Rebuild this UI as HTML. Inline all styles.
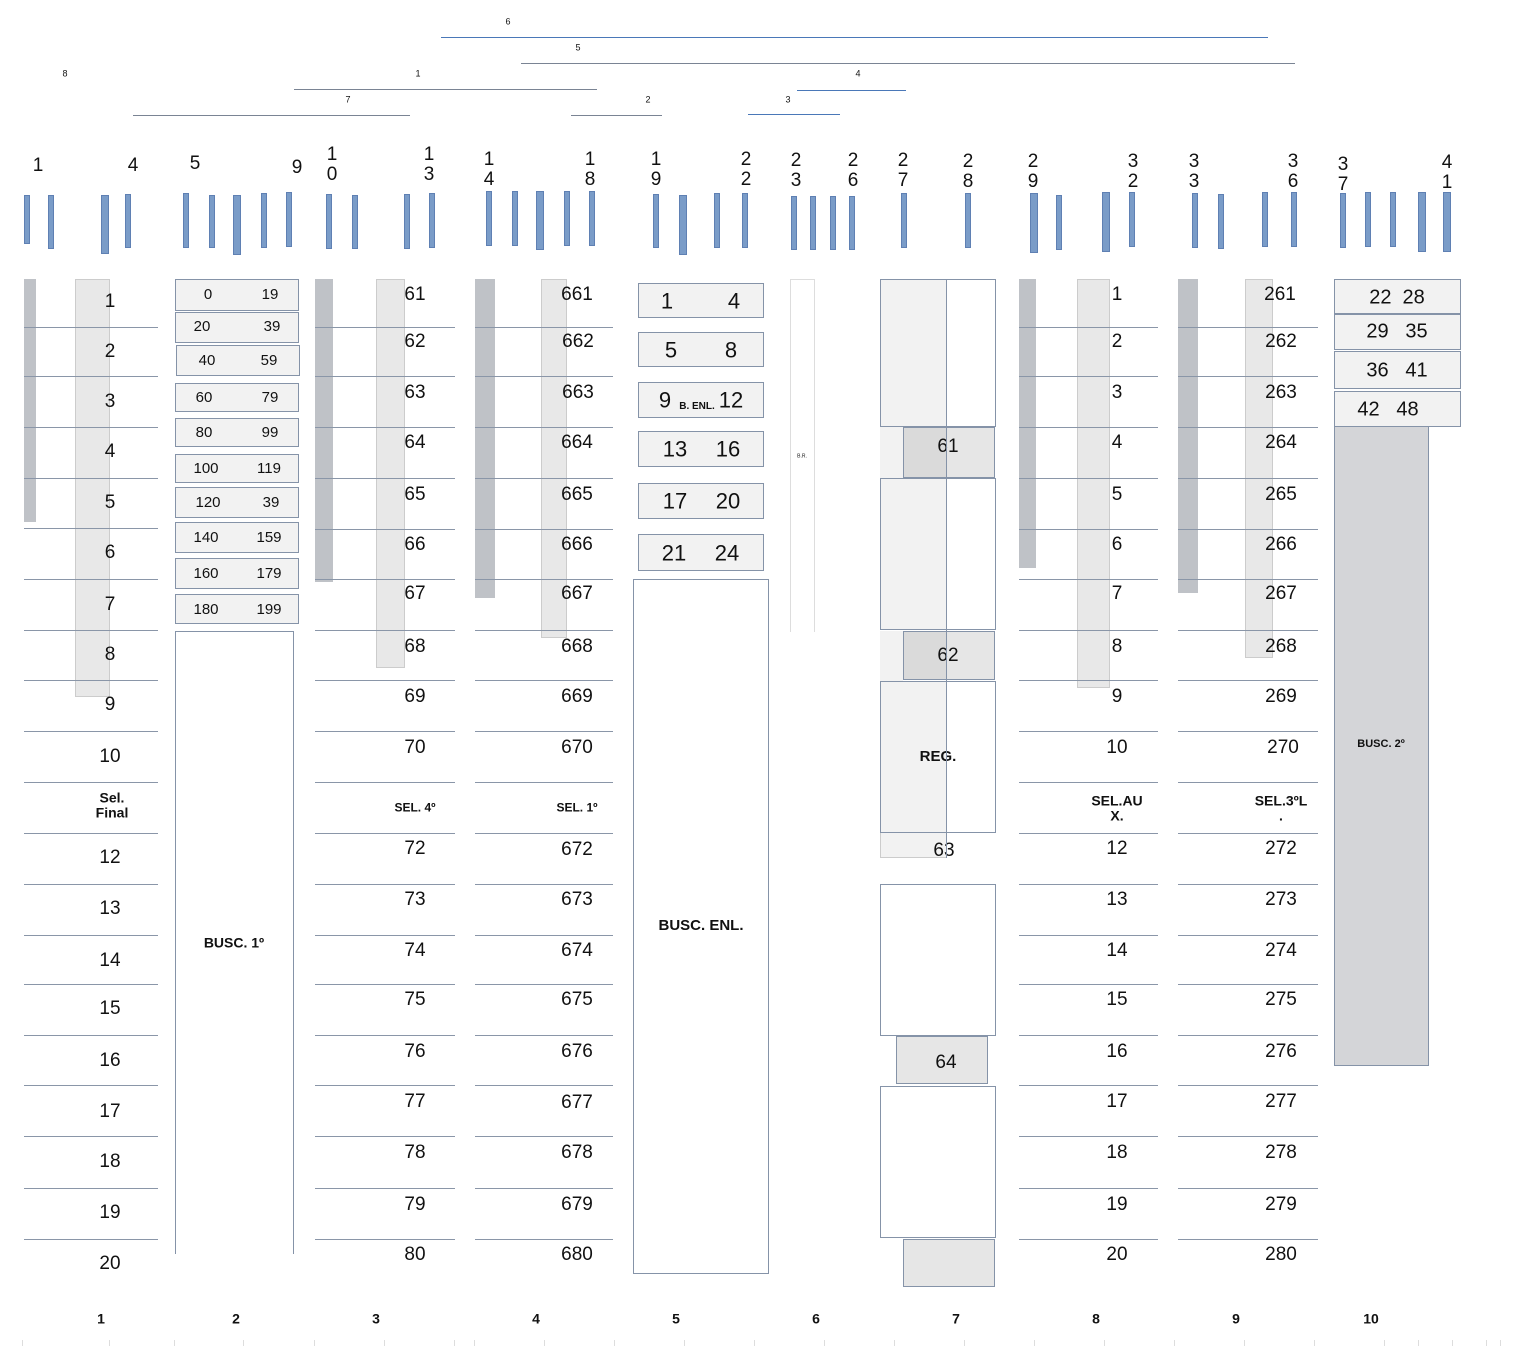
<!DOCTYPE html>
<html><head><meta charset="utf-8"><style>
body{margin:0;width:1536px;height:1346px;background:#fff;position:relative;overflow:hidden;font-family:"Liberation Sans",sans-serif;color:#111}
div{position:absolute;box-sizing:border-box}
.t{transform:translate(-50%,-50%);white-space:nowrap;text-align:center;line-height:1.05}
.n{font-size:19px}
.s{font-size:15px}
.b{font-weight:bold}
.h{height:1px;background:#8a96a8}
.bar{width:6px;background:#7a9cc8;border:1px solid #5f80b3}
.bx{border:1px solid #8593a8;background:#f2f2f2}
.dk{background:#bfc2c7}
.lt{background:#e8e8e8;border:1px solid #ccc}
.ln{height:1px}
</style></head><body>
<!-- top range lines -->
<div class="t" style="left:508px;top:22px;font-size:9px">6</div><div class="ln" style="left:441px;top:37px;width:827px;background:#4a78b8"></div>
<div class="t" style="left:578px;top:48px;font-size:9px">5</div><div class="ln" style="left:521px;top:63px;width:774px;background:#7a8494"></div>
<div class="t" style="left:858px;top:74px;font-size:9px">4</div><div class="ln" style="left:797px;top:90px;width:109px;background:#4a78b8"></div>
<div class="t" style="left:65px;top:74px;font-size:9px">8</div>
<div class="t" style="left:418px;top:74px;font-size:9px">1</div><div class="ln" style="left:294px;top:89px;width:303px;background:#7a8494"></div>
<div class="t" style="left:348px;top:100px;font-size:9px">7</div><div class="ln" style="left:133px;top:115px;width:277px;background:#7a8494"></div>
<div class="t" style="left:648px;top:100px;font-size:9px">2</div><div class="ln" style="left:571px;top:115px;width:91px;background:#7a8494"></div>
<div class="t" style="left:788px;top:100px;font-size:9px">3</div><div class="ln" style="left:748px;top:114px;width:92px;background:#4a78b8"></div>

<!-- header numbers -->
<div class="t n" style="left:38px;top:166px">1</div>
<div class="t n" style="left:133px;top:166px">4</div>
<div class="t n" style="left:195px;top:164px">5</div>
<div class="t n" style="left:297px;top:168px">9</div>
<div class="t n" style="left:332px;top:165px">1<br>0</div>
<div class="t n" style="left:429px;top:165px">1<br>3</div>
<div class="t n" style="left:489px;top:170px">1<br>4</div>
<div class="t n" style="left:590px;top:170px">1<br>8</div>
<div class="t n" style="left:656px;top:170px">1<br>9</div>
<div class="t n" style="left:746px;top:170px">2<br>2</div>
<div class="t n" style="left:796px;top:171px">2<br>3</div>
<div class="t n" style="left:853px;top:171px">2<br>6</div>
<div class="t n" style="left:903px;top:171px">2<br>7</div>
<div class="t n" style="left:968px;top:172px">2<br>8</div>
<div class="t n" style="left:1033px;top:172px">2<br>9</div>
<div class="t n" style="left:1133px;top:172px">3<br>2</div>
<div class="t n" style="left:1194px;top:172px">3<br>3</div>
<div class="t n" style="left:1293px;top:172px">3<br>6</div>
<div class="t n" style="left:1343px;top:175px">3<br>7</div>
<div class="t n" style="left:1447px;top:173px">4<br>1</div>

<!-- blue bars -->
<div class="bar" style="left:24px;top:195px;height:49px"></div>
<div class="bar" style="left:48px;top:195px;height:54px"></div>
<div class="bar" style="left:101px;top:195px;height:59px;width:8px"></div>
<div class="bar" style="left:125px;top:194px;height:54px"></div>
<div class="bar" style="left:183px;top:193px;height:55px"></div>
<div class="bar" style="left:209px;top:195px;height:53px"></div>
<div class="bar" style="left:233px;top:195px;height:60px;width:8px"></div>
<div class="bar" style="left:261px;top:193px;height:55px"></div>
<div class="bar" style="left:286px;top:192px;height:55px"></div>
<div class="bar" style="left:326px;top:194px;height:55px"></div>
<div class="bar" style="left:352px;top:195px;height:54px"></div>
<div class="bar" style="left:404px;top:194px;height:55px"></div>
<div class="bar" style="left:429px;top:193px;height:55px"></div>
<div class="bar" style="left:486px;top:191px;height:55px"></div>
<div class="bar" style="left:512px;top:191px;height:55px"></div>
<div class="bar" style="left:536px;top:191px;height:59px;width:8px"></div>
<div class="bar" style="left:564px;top:191px;height:55px"></div>
<div class="bar" style="left:589px;top:191px;height:55px"></div>
<div class="bar" style="left:653px;top:194px;height:54px"></div>
<div class="bar" style="left:679px;top:195px;height:60px;width:8px"></div>
<div class="bar" style="left:714px;top:193px;height:55px"></div>
<div class="bar" style="left:742px;top:193px;height:55px"></div>
<div class="bar" style="left:791px;top:196px;height:54px"></div>
<div class="bar" style="left:810px;top:196px;height:54px"></div>
<div class="bar" style="left:830px;top:196px;height:54px"></div>
<div class="bar" style="left:849px;top:196px;height:54px"></div>
<div class="bar" style="left:901px;top:193px;height:55px"></div>
<div class="bar" style="left:965px;top:193px;height:55px"></div>
<div class="bar" style="left:1030px;top:193px;height:60px;width:8px"></div>
<div class="bar" style="left:1056px;top:195px;height:55px"></div>
<div class="bar" style="left:1102px;top:192px;height:60px;width:8px"></div>
<div class="bar" style="left:1129px;top:192px;height:55px"></div>
<div class="bar" style="left:1192px;top:193px;height:55px"></div>
<div class="bar" style="left:1218px;top:194px;height:55px"></div>
<div class="bar" style="left:1262px;top:192px;height:55px"></div>
<div class="bar" style="left:1291px;top:192px;height:55px"></div>
<div class="bar" style="left:1340px;top:193px;height:55px"></div>
<div class="bar" style="left:1365px;top:192px;height:55px"></div>
<div class="bar" style="left:1390px;top:192px;height:55px"></div>
<div class="bar" style="left:1418px;top:192px;height:60px;width:8px"></div>
<div class="bar" style="left:1443px;top:192px;height:60px;width:8px"></div>

<!-- shading bars -->
<div class="dk" style="left:24px;top:279px;width:12px;height:243px"></div>
<div class="lt" style="left:75px;top:279px;width:35px;height:418px"></div>
<div class="dk" style="left:315px;top:279px;width:18px;height:303px"></div>
<div class="lt" style="left:376px;top:279px;width:29px;height:389px"></div>
<div class="dk" style="left:475px;top:279px;width:20px;height:319px"></div>
<div class="lt" style="left:541px;top:279px;width:26px;height:359px"></div>
<div class="dk" style="left:1019px;top:279px;width:17px;height:289px"></div>
<div class="lt" style="left:1077px;top:279px;width:33px;height:409px"></div>
<div class="dk" style="left:1178px;top:279px;width:20px;height:314px"></div>
<div class="lt" style="left:1245px;top:279px;width:28px;height:379px"></div>

<!-- row lines -->
<div style="left:24px;top:0;width:134px;height:0">
<div class="h" style="left:0;top:327px;width:134px"></div><div class="h" style="left:0;top:376px;width:134px"></div><div class="h" style="left:0;top:427px;width:134px"></div><div class="h" style="left:0;top:478px;width:134px"></div><div class="h" style="left:0;top:528px;width:134px"></div><div class="h" style="left:0;top:579px;width:134px"></div><div class="h" style="left:0;top:630px;width:134px"></div><div class="h" style="left:0;top:680px;width:134px"></div><div class="h" style="left:0;top:731px;width:134px"></div><div class="h" style="left:0;top:782px;width:134px"></div><div class="h" style="left:0;top:833px;width:134px"></div><div class="h" style="left:0;top:884px;width:134px"></div><div class="h" style="left:0;top:935px;width:134px"></div><div class="h" style="left:0;top:984px;width:134px"></div><div class="h" style="left:0;top:1035px;width:134px"></div><div class="h" style="left:0;top:1085px;width:134px"></div><div class="h" style="left:0;top:1136px;width:134px"></div><div class="h" style="left:0;top:1188px;width:134px"></div><div class="h" style="left:0;top:1239px;width:134px"></div>
</div>
<div style="left:315px;top:0;width:140px;height:0">
<div class="h" style="left:0;top:327px;width:140px"></div><div class="h" style="left:0;top:376px;width:140px"></div><div class="h" style="left:0;top:427px;width:140px"></div><div class="h" style="left:0;top:478px;width:140px"></div><div class="h" style="left:0;top:529px;width:140px"></div><div class="h" style="left:0;top:579px;width:140px"></div><div class="h" style="left:0;top:630px;width:140px"></div><div class="h" style="left:0;top:680px;width:140px"></div><div class="h" style="left:0;top:731px;width:140px"></div><div class="h" style="left:0;top:782px;width:140px"></div><div class="h" style="left:0;top:833px;width:140px"></div><div class="h" style="left:0;top:884px;width:140px"></div><div class="h" style="left:0;top:935px;width:140px"></div><div class="h" style="left:0;top:984px;width:140px"></div><div class="h" style="left:0;top:1035px;width:140px"></div><div class="h" style="left:0;top:1085px;width:140px"></div><div class="h" style="left:0;top:1136px;width:140px"></div><div class="h" style="left:0;top:1188px;width:140px"></div><div class="h" style="left:0;top:1239px;width:140px"></div>
</div>
<div style="left:475px;top:0;width:138px;height:0">
<div class="h" style="left:0;top:327px;width:138px"></div><div class="h" style="left:0;top:376px;width:138px"></div><div class="h" style="left:0;top:427px;width:138px"></div><div class="h" style="left:0;top:478px;width:138px"></div><div class="h" style="left:0;top:529px;width:138px"></div><div class="h" style="left:0;top:579px;width:138px"></div><div class="h" style="left:0;top:630px;width:138px"></div><div class="h" style="left:0;top:680px;width:138px"></div><div class="h" style="left:0;top:731px;width:138px"></div><div class="h" style="left:0;top:782px;width:138px"></div><div class="h" style="left:0;top:833px;width:138px"></div><div class="h" style="left:0;top:884px;width:138px"></div><div class="h" style="left:0;top:935px;width:138px"></div><div class="h" style="left:0;top:984px;width:138px"></div><div class="h" style="left:0;top:1035px;width:138px"></div><div class="h" style="left:0;top:1085px;width:138px"></div><div class="h" style="left:0;top:1136px;width:138px"></div><div class="h" style="left:0;top:1188px;width:138px"></div><div class="h" style="left:0;top:1239px;width:138px"></div>
</div>
<div style="left:1019px;top:0;width:139px;height:0">
<div class="h" style="left:0;top:327px;width:139px"></div><div class="h" style="left:0;top:376px;width:139px"></div><div class="h" style="left:0;top:427px;width:139px"></div><div class="h" style="left:0;top:478px;width:139px"></div><div class="h" style="left:0;top:529px;width:139px"></div><div class="h" style="left:0;top:579px;width:139px"></div><div class="h" style="left:0;top:630px;width:139px"></div><div class="h" style="left:0;top:680px;width:139px"></div><div class="h" style="left:0;top:731px;width:139px"></div><div class="h" style="left:0;top:782px;width:139px"></div><div class="h" style="left:0;top:833px;width:139px"></div><div class="h" style="left:0;top:884px;width:139px"></div><div class="h" style="left:0;top:935px;width:139px"></div><div class="h" style="left:0;top:984px;width:139px"></div><div class="h" style="left:0;top:1035px;width:139px"></div><div class="h" style="left:0;top:1085px;width:139px"></div><div class="h" style="left:0;top:1136px;width:139px"></div><div class="h" style="left:0;top:1188px;width:139px"></div><div class="h" style="left:0;top:1239px;width:139px"></div>
</div>
<div style="left:1178px;top:0;width:140px;height:0">
<div class="h" style="left:0;top:327px;width:140px"></div><div class="h" style="left:0;top:376px;width:140px"></div><div class="h" style="left:0;top:427px;width:140px"></div><div class="h" style="left:0;top:478px;width:140px"></div><div class="h" style="left:0;top:529px;width:140px"></div><div class="h" style="left:0;top:579px;width:140px"></div><div class="h" style="left:0;top:630px;width:140px"></div><div class="h" style="left:0;top:680px;width:140px"></div><div class="h" style="left:0;top:731px;width:140px"></div><div class="h" style="left:0;top:782px;width:140px"></div><div class="h" style="left:0;top:833px;width:140px"></div><div class="h" style="left:0;top:884px;width:140px"></div><div class="h" style="left:0;top:935px;width:140px"></div><div class="h" style="left:0;top:984px;width:140px"></div><div class="h" style="left:0;top:1035px;width:140px"></div><div class="h" style="left:0;top:1085px;width:140px"></div><div class="h" style="left:0;top:1136px;width:140px"></div><div class="h" style="left:0;top:1188px;width:140px"></div><div class="h" style="left:0;top:1239px;width:140px"></div>
</div>

<!-- col1 labels -->
<div class="t n" style="left:110px;top:302px">1</div><div class="t n" style="left:110px;top:352px">2</div><div class="t n" style="left:110px;top:402px">3</div><div class="t n" style="left:110px;top:452px">4</div><div class="t n" style="left:110px;top:503px">5</div><div class="t n" style="left:110px;top:553px">6</div><div class="t n" style="left:110px;top:605px">7</div><div class="t n" style="left:110px;top:655px">8</div><div class="t n" style="left:110px;top:705px">9</div><div class="t n" style="left:110px;top:757px">10</div>
<div class="t b" style="left:112px;top:805px;font-size:14px">Sel.<br>Final</div>
<div class="t n" style="left:110px;top:858px">12</div><div class="t n" style="left:110px;top:909px">13</div><div class="t n" style="left:110px;top:961px">14</div><div class="t n" style="left:110px;top:1009px">15</div><div class="t n" style="left:110px;top:1061px">16</div><div class="t n" style="left:110px;top:1112px">17</div><div class="t n" style="left:110px;top:1162px">18</div><div class="t n" style="left:110px;top:1213px">19</div><div class="t n" style="left:110px;top:1264px">20</div>

<!-- col3 labels -->
<div class="t n" style="left:415px;top:295px">61</div><div class="t n" style="left:415px;top:342px">62</div><div class="t n" style="left:415px;top:393px">63</div><div class="t n" style="left:415px;top:443px">64</div><div class="t n" style="left:415px;top:495px">65</div><div class="t n" style="left:415px;top:545px">66</div><div class="t n" style="left:415px;top:594px">67</div><div class="t n" style="left:415px;top:647px">68</div><div class="t n" style="left:415px;top:697px">69</div><div class="t n" style="left:415px;top:748px">70</div>
<div class="t b" style="left:415px;top:808px;font-size:12px">SEL. 4º</div>
<div class="t n" style="left:415px;top:849px">72</div><div class="t n" style="left:415px;top:900px">73</div><div class="t n" style="left:415px;top:951px">74</div><div class="t n" style="left:415px;top:1000px">75</div><div class="t n" style="left:415px;top:1052px">76</div><div class="t n" style="left:415px;top:1102px">77</div><div class="t n" style="left:415px;top:1153px">78</div><div class="t n" style="left:415px;top:1205px">79</div><div class="t n" style="left:415px;top:1255px">80</div>

<!-- col4 labels -->
<div class="t n" style="left:577px;top:295px">661</div><div class="t n" style="left:578px;top:342px">662</div><div class="t n" style="left:578px;top:393px">663</div><div class="t n" style="left:577px;top:443px">664</div><div class="t n" style="left:577px;top:495px">665</div><div class="t n" style="left:577px;top:545px">666</div><div class="t n" style="left:577px;top:594px">667</div><div class="t n" style="left:577px;top:647px">668</div><div class="t n" style="left:577px;top:697px">669</div><div class="t n" style="left:577px;top:748px">670</div>
<div class="t b" style="left:577px;top:808px;font-size:12px">SEL. 1º</div>
<div class="t n" style="left:577px;top:850px">672</div><div class="t n" style="left:577px;top:900px">673</div><div class="t n" style="left:577px;top:951px">674</div><div class="t n" style="left:577px;top:1000px">675</div><div class="t n" style="left:577px;top:1052px">676</div><div class="t n" style="left:577px;top:1103px">677</div><div class="t n" style="left:577px;top:1153px">678</div><div class="t n" style="left:577px;top:1205px">679</div><div class="t n" style="left:577px;top:1255px">680</div>

<!-- col8 labels -->
<div class="t n" style="left:1117px;top:295px">1</div><div class="t n" style="left:1117px;top:342px">2</div><div class="t n" style="left:1117px;top:393px">3</div><div class="t n" style="left:1117px;top:443px">4</div><div class="t n" style="left:1117px;top:495px">5</div><div class="t n" style="left:1117px;top:545px">6</div><div class="t n" style="left:1117px;top:594px">7</div><div class="t n" style="left:1117px;top:647px">8</div><div class="t n" style="left:1117px;top:697px">9</div><div class="t n" style="left:1117px;top:748px">10</div>
<div class="t b" style="left:1117px;top:808px;font-size:14px">SEL.AU<br>X.</div>
<div class="t n" style="left:1117px;top:849px">12</div><div class="t n" style="left:1117px;top:900px">13</div><div class="t n" style="left:1117px;top:951px">14</div><div class="t n" style="left:1117px;top:1000px">15</div><div class="t n" style="left:1117px;top:1052px">16</div><div class="t n" style="left:1117px;top:1102px">17</div><div class="t n" style="left:1117px;top:1153px">18</div><div class="t n" style="left:1117px;top:1205px">19</div><div class="t n" style="left:1117px;top:1255px">20</div>

<!-- col9 labels -->
<div class="t n" style="left:1280px;top:295px">261</div><div class="t n" style="left:1281px;top:342px">262</div><div class="t n" style="left:1281px;top:393px">263</div><div class="t n" style="left:1281px;top:443px">264</div><div class="t n" style="left:1281px;top:495px">265</div><div class="t n" style="left:1281px;top:545px">266</div><div class="t n" style="left:1281px;top:594px">267</div><div class="t n" style="left:1281px;top:647px">268</div><div class="t n" style="left:1281px;top:697px">269</div><div class="t n" style="left:1283px;top:748px">270</div>
<div class="t b" style="left:1281px;top:808px;font-size:14px">SEL.3ºL<br>.</div>
<div class="t n" style="left:1281px;top:849px">272</div><div class="t n" style="left:1281px;top:900px">273</div><div class="t n" style="left:1281px;top:951px">274</div><div class="t n" style="left:1281px;top:1000px">275</div><div class="t n" style="left:1281px;top:1052px">276</div><div class="t n" style="left:1281px;top:1102px">277</div><div class="t n" style="left:1281px;top:1153px">278</div><div class="t n" style="left:1281px;top:1205px">279</div><div class="t n" style="left:1281px;top:1255px">280</div>

<!-- col2 -->
<div class="bx" style="left:175px;top:279px;width:124px;height:32px"></div><div class="t s" style="left:208px;top:295px">0</div><div class="t s" style="left:270px;top:295px">19</div>
<div class="bx" style="left:175px;top:312px;width:124px;height:31px"></div><div class="t s" style="left:202px;top:327px">20</div><div class="t s" style="left:272px;top:327px">39</div>
<div class="bx" style="left:176px;top:345px;width:124px;height:31px"></div><div class="t s" style="left:207px;top:361px">40</div><div class="t s" style="left:269px;top:361px">59</div>
<div class="bx" style="left:175px;top:383px;width:124px;height:29px"></div><div class="t s" style="left:204px;top:398px">60</div><div class="t s" style="left:270px;top:398px">79</div>
<div class="bx" style="left:175px;top:418px;width:124px;height:29px"></div><div class="t s" style="left:204px;top:433px">80</div><div class="t s" style="left:270px;top:433px">99</div>
<div class="bx" style="left:175px;top:454px;width:124px;height:29px"></div><div class="t s" style="left:206px;top:469px">100</div><div class="t s" style="left:269px;top:469px">119</div>
<div class="bx" style="left:175px;top:487px;width:124px;height:31px"></div><div class="t s" style="left:208px;top:503px">120</div><div class="t s" style="left:271px;top:503px">39</div>
<div class="bx" style="left:175px;top:522px;width:124px;height:31px"></div><div class="t s" style="left:206px;top:538px">140</div><div class="t s" style="left:269px;top:538px">159</div>
<div class="bx" style="left:175px;top:558px;width:124px;height:31px"></div><div class="t s" style="left:206px;top:574px">160</div><div class="t s" style="left:269px;top:574px">179</div>
<div class="bx" style="left:175px;top:594px;width:124px;height:30px"></div><div class="t s" style="left:206px;top:610px">180</div><div class="t s" style="left:269px;top:610px">199</div>
<div style="left:175px;top:631px;width:119px;height:623px;border-left:1px solid #8593a8;border-right:1px solid #8593a8;border-top:1px solid #8593a8"></div>
<div class="t b" style="left:234px;top:943px;font-size:14px">BUSC. 1º</div>

<!-- col5 -->
<div class="bx" style="left:638px;top:283px;width:126px;height:35px"></div><div class="t" style="left:667px;top:301px;font-size:22px">1</div><div class="t" style="left:734px;top:301px;font-size:22px">4</div>
<div class="bx" style="left:638px;top:332px;width:126px;height:35px"></div><div class="t" style="left:671px;top:350px;font-size:22px">5</div><div class="t" style="left:731px;top:350px;font-size:22px">8</div>
<div class="bx" style="left:638px;top:382px;width:126px;height:36px"></div><div class="t" style="left:665px;top:400px;font-size:22px">9</div><div class="t b" style="left:697px;top:407px;font-size:10px">B. ENL.</div><div class="t" style="left:731px;top:400px;font-size:22px">12</div>
<div class="bx" style="left:638px;top:431px;width:126px;height:36px"></div><div class="t" style="left:675px;top:449px;font-size:22px">13</div><div class="t" style="left:728px;top:449px;font-size:22px">16</div>
<div class="bx" style="left:638px;top:483px;width:126px;height:36px"></div><div class="t" style="left:675px;top:501px;font-size:22px">17</div><div class="t" style="left:728px;top:501px;font-size:22px">20</div>
<div class="bx" style="left:638px;top:534px;width:126px;height:37px"></div><div class="t" style="left:674px;top:553px;font-size:22px">21</div><div class="t" style="left:727px;top:553px;font-size:22px">24</div>
<div style="left:633px;top:579px;width:136px;height:695px;border:1px solid #8593a8"></div>
<div class="t b" style="left:701px;top:926px;font-size:15px">BUSC. ENL.</div>

<!-- col6 -->
<div style="left:790px;top:279px;width:25px;height:353px;border:1px solid #ddd;border-bottom:none"></div>
<div class="t" style="left:802px;top:457px;font-size:5px">B.R.</div>

<!-- col7 -->
<div style="left:880px;top:279px;width:66px;height:147px;background:#f2f2f2"></div>
<div style="left:880px;top:279px;width:116px;height:148px;border:1px solid #8593a8"></div>
<div style="left:880px;top:427px;width:23px;height:51px;background:#f2f2f2"></div>
<div style="left:903px;top:427px;width:92px;height:51px;background:#e6e6e6;border:1px solid #8593a8"></div>
<div style="left:904px;top:428px;width:42px;height:49px;background:#dadada"></div>
<div class="t n" style="left:948px;top:447px">61</div>
<div style="left:880px;top:478px;width:66px;height:152px;background:#f2f2f2"></div>
<div style="left:880px;top:478px;width:116px;height:152px;border:1px solid #8593a8"></div>
<div style="left:880px;top:631px;width:23px;height:50px;background:#f2f2f2"></div>
<div style="left:903px;top:631px;width:92px;height:49px;background:#e6e6e6;border:1px solid #8593a8"></div>
<div style="left:904px;top:632px;width:42px;height:47px;background:#dadada"></div>
<div class="t n" style="left:948px;top:656px">62</div>
<div style="left:880px;top:681px;width:66px;height:151px;background:#f2f2f2"></div>
<div style="left:880px;top:681px;width:116px;height:152px;border:1px solid #8593a8"></div>
<div class="t b" style="left:938px;top:757px;font-size:15px">REG.</div>
<div style="left:880px;top:833px;width:66px;height:25px;background:#f2f2f2;border-left:1px solid #ccc;border-bottom:1px solid #ccc"></div>
<div class="t n" style="left:944px;top:851px">63</div>
<div style="left:946px;top:279px;width:1px;height:579px;background:#8593a8"></div>
<div style="left:880px;top:884px;width:116px;height:152px;border:1px solid #8593a8"></div>
<div style="left:896px;top:1036px;width:92px;height:48px;background:#e6e6e6;border:1px solid #8593a8"></div>
<div class="t n" style="left:946px;top:1063px">64</div>
<div style="left:880px;top:1086px;width:116px;height:152px;border:1px solid #8593a8"></div>
<div style="left:903px;top:1239px;width:92px;height:48px;background:#e6e6e6;border:1px solid #8593a8"></div>

<!-- col10 -->
<div class="bx" style="left:1334px;top:279px;width:127px;height:35px"></div><div class="t" style="left:1397px;top:298px;font-size:20px">22&nbsp;&nbsp;28</div>
<div class="bx" style="left:1334px;top:314px;width:127px;height:36px"></div><div class="t" style="left:1397px;top:332px;font-size:20px">29&nbsp;&nbsp;&nbsp;35</div>
<div class="bx" style="left:1334px;top:351px;width:127px;height:38px"></div><div class="t" style="left:1397px;top:371px;font-size:20px">36&nbsp;&nbsp;&nbsp;41</div>
<div class="bx" style="left:1334px;top:391px;width:127px;height:36px"></div><div class="t" style="left:1388px;top:410px;font-size:20px">42&nbsp;&nbsp;&nbsp;48</div>
<div style="left:1334px;top:427px;width:95px;height:639px;background:#d4d5d8;border:1px solid #8593a8;border-top:none"></div>
<div class="t b" style="left:1381px;top:745px;font-size:11px">BUSC. 2º</div>

<!-- bottom labels -->
<div class="t b" style="left:101px;top:1319px;font-size:14px">1</div>
<div class="t b" style="left:236px;top:1319px;font-size:14px">2</div>
<div class="t b" style="left:376px;top:1319px;font-size:14px">3</div>
<div class="t b" style="left:536px;top:1319px;font-size:14px">4</div>
<div class="t b" style="left:676px;top:1319px;font-size:14px">5</div>
<div class="t b" style="left:816px;top:1319px;font-size:14px">6</div>
<div class="t b" style="left:956px;top:1319px;font-size:14px">7</div>
<div class="t b" style="left:1096px;top:1319px;font-size:14px">8</div>
<div class="t b" style="left:1236px;top:1319px;font-size:14px">9</div>
<div class="t b" style="left:1371px;top:1319px;font-size:14px">10</div>

<!-- bottom ticks -->
<div style="left:0;top:1340px;width:1536px;height:6px">
<div style="left:22px;top:0;width:1px;height:6px;background:#ddd"></div><div style="left:109px;top:0;width:1px;height:6px;background:#ddd"></div><div style="left:174px;top:0;width:1px;height:6px;background:#ddd"></div><div style="left:243px;top:0;width:1px;height:6px;background:#ddd"></div><div style="left:314px;top:0;width:1px;height:6px;background:#ddd"></div><div style="left:384px;top:0;width:1px;height:6px;background:#ddd"></div><div style="left:454px;top:0;width:1px;height:6px;background:#ddd"></div><div style="left:474px;top:0;width:1px;height:6px;background:#ddd"></div><div style="left:544px;top:0;width:1px;height:6px;background:#ddd"></div><div style="left:614px;top:0;width:1px;height:6px;background:#ddd"></div><div style="left:684px;top:0;width:1px;height:6px;background:#ddd"></div><div style="left:754px;top:0;width:1px;height:6px;background:#ddd"></div><div style="left:824px;top:0;width:1px;height:6px;background:#ddd"></div><div style="left:894px;top:0;width:1px;height:6px;background:#ddd"></div><div style="left:964px;top:0;width:1px;height:6px;background:#ddd"></div><div style="left:1034px;top:0;width:1px;height:6px;background:#ddd"></div><div style="left:1104px;top:0;width:1px;height:6px;background:#ddd"></div><div style="left:1174px;top:0;width:1px;height:6px;background:#ddd"></div><div style="left:1244px;top:0;width:1px;height:6px;background:#ddd"></div><div style="left:1314px;top:0;width:1px;height:6px;background:#ddd"></div><div style="left:1384px;top:0;width:1px;height:6px;background:#ddd"></div><div style="left:1418px;top:0;width:1px;height:6px;background:#ddd"></div><div style="left:1452px;top:0;width:1px;height:6px;background:#ddd"></div><div style="left:1486px;top:0;width:1px;height:6px;background:#ddd"></div><div style="left:1500px;top:0;width:1px;height:6px;background:#ddd"></div>
</div>
</body></html>
